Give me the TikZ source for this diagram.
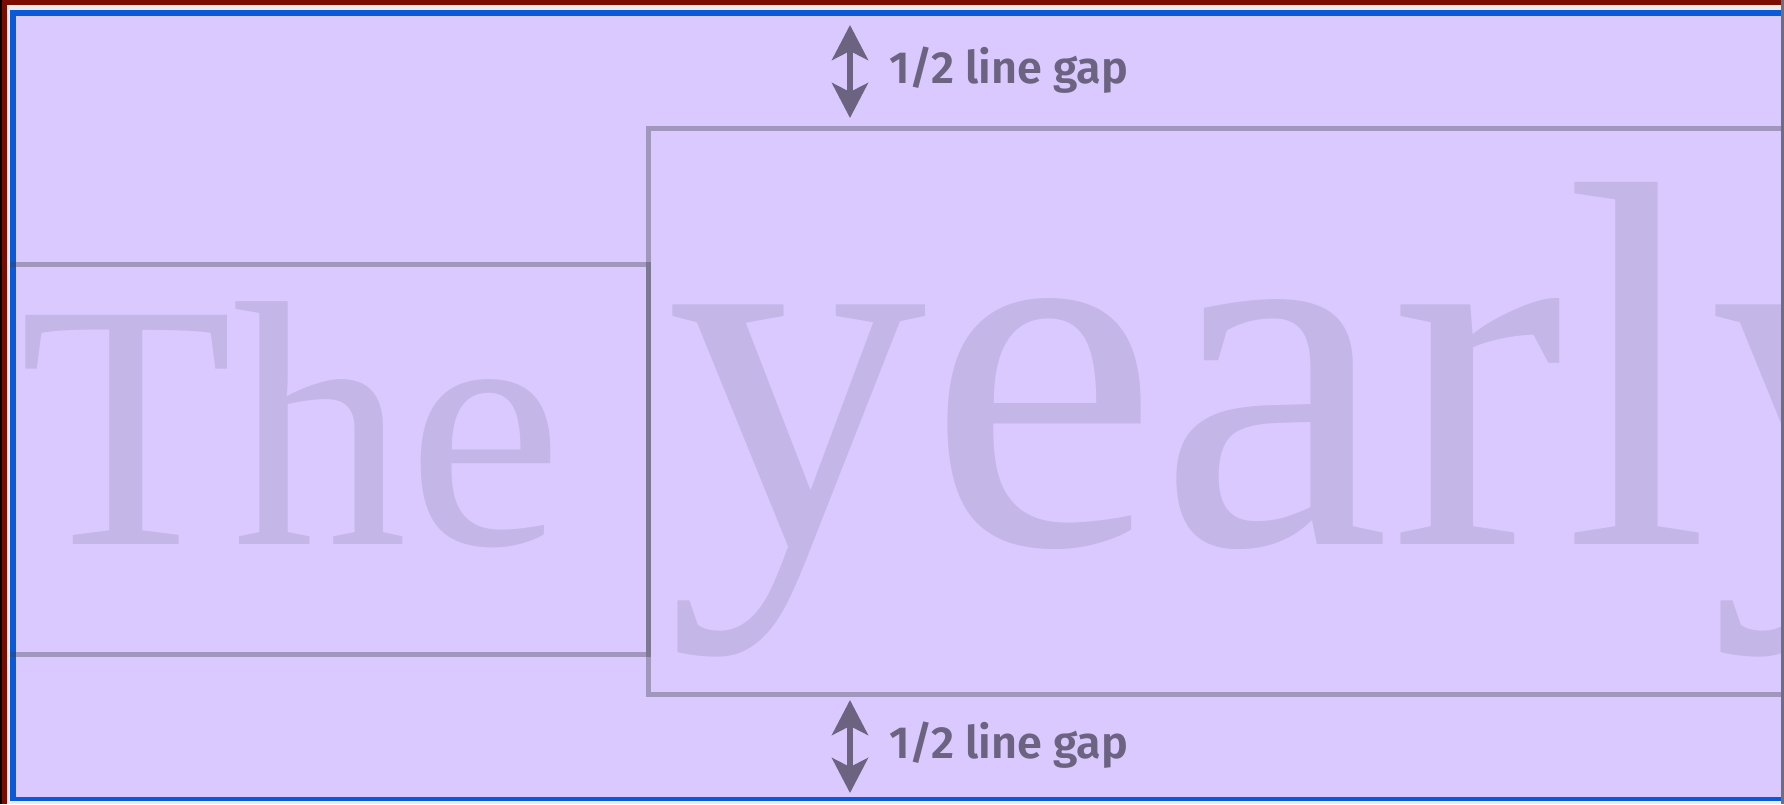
\documentclass[tikz,border=0pt]{standalone}
\usepackage{fontspec}
\usetikzlibrary{arrows.meta}
\newfontfamily\bigserif{Liberation Serif}
\newfontfamily\labelsans{Fira Sans SemiBold}
\definecolor{bgpurple}{RGB}{218,201,255}
\definecolor{glyphc}{RGB}{196,182,230}
\definecolor{boxline}{RGB}{61,64,73}
\definecolor{ink}{RGB}{107,99,128}
\definecolor{frameblue}{RGB}{10,90,216}
\definecolor{framered}{RGB}{123,13,0}
\definecolor{framelight}{RGB}{236,236,236}
\definecolor{edgegray}{RGB}{110,110,126}
\tikzset{
  boxstroke/.style={draw=boxline, draw opacity=0.36, line width=2.5pt},
  bigword/.style={text=glyphc, anchor=base west, inner sep=0pt, outer sep=0pt},
  gaparrow/.style={draw=ink, line width=3pt,
    {Stealth[length=17.5pt,width=18pt,inset=4.5pt]}-{Stealth[length=17.5pt,width=18pt,inset=4.5pt]}},
  gaplabel/.style={text=ink, anchor=base west, inner sep=0pt,
    font=\labelsans\fontsize{22.5pt}{27pt}\selectfont}
}
\begin{document}
\begin{tikzpicture}[x=0.5pt,y=-0.5pt]
\useasboundingbox (0,0) rectangle (1784,804);
% frame
\fill[framered] (0,0) rectangle (1784,804);
\fill[black] (0,0) rectangle (2,804);
\fill[framelight] (7,5) rectangle (1784,804);
\fill[frameblue] (10,10) rectangle (1784,801);
\fill[bgpurple] (16,16) rectangle (1784,797);
% big words
\node[bigword, font=\bigserif\fontsize{175pt}{175pt}\selectfont] (the) at (19,544) {The};
\node[bigword, font=\bigserif\fontsize{261pt}{261pt}\selectfont] (yearly) at (666,544) {yearly};
% boxes
\coordinate (thetl) at (10,264.5);
\coordinate (thetr) at (648,264.5);
\coordinate (thebr) at (648,654);
\coordinate (thebl) at (10,654);
\coordinate (yrtr) at (1784,128.5);
\coordinate (yrtl) at (648,128.5);
\coordinate (yrbl) at (648,694);
\coordinate (yrbr) at (1784,694);
\draw[boxstroke] (thetl) -- (thetr) -- (thebr) -- (thebl);
\draw[boxstroke] (yrtr) -- (yrtl) -- (yrbl) -- (yrbr);
% gap arrows
\coordinate (gapatop) at (850,25);
\coordinate (gapabot) at (850,118);
\coordinate (gapbtop) at (850,700);
\coordinate (gapbbot) at (850,793);
\draw[gaparrow] (gapatop) -- (gapabot);
\draw[gaparrow] (gapbtop) -- (gapbbot);
\node[gaplabel] (gaptext1) at (889,83) {1/2 line gap};
\node[gaplabel] (gaptext2) at (889,758) {1/2 line gap};
% right edge
\fill[edgegray] (1781,0) rectangle (1784,804);
\end{tikzpicture}
\end{document}
